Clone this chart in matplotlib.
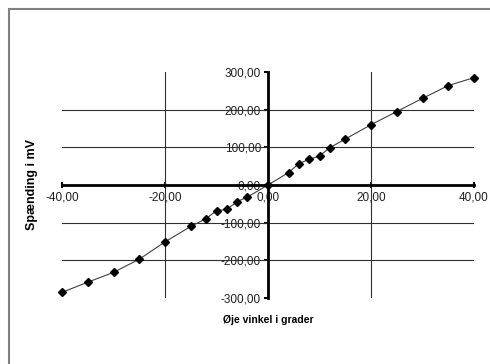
import matplotlib
matplotlib.use("Agg")
import matplotlib.pyplot as plt
import matplotlib.ticker as mticker
from matplotlib.patches import Rectangle

plt.rcParams["font.family"] = ["Liberation Sans", "DejaVu Sans"]

# eye angle (degrees) and measured voltage (mV)
vinkel = [-40, -35, -30, -25, -20, -15, -12, -10, -8, -6, -4, 0,
          4, 6, 8, 10, 12, 15, 20, 25, 30, 35, 40]
spaending = [-285, -258, -232, -197, -151, -110, -89, -68, -65, -44, -32, 0,
             33, 57, 68, 77, 99, 122, 160, 195, 230, 264, 285]

x_ticks = [-40, -20, 0, 20, 40]
y_ticks = [-300, -200, -100, 0, 100, 200, 300]
x_grid = [-20, 20]
y_grid = [-200, -100, 100, 200]

W, H = 490, 364
fig = plt.figure(figsize=(W / 100, H / 100), dpi=100)
ax = fig.add_axes([62 / W, 1 - 298 / H, (474 - 62) / W, (298 - 72) / H])

for g in y_grid:
    ax.axhline(g, color="#303030", linewidth=0.8, zorder=3)
for g in x_grid:
    ax.axvline(g, color="#303030", linewidth=0.8, zorder=3)

ax.plot(vinkel, spaending, color="#404040", linewidth=0.8, marker="D",
        markersize=3.6, markerfacecolor="black", markeredgecolor="black",
        zorder=4, clip_on=False)

ax.set_xlim(-40, 40)
ax.set_ylim(-300, 300)
ax.set_xticks(x_ticks)
ax.set_yticks(y_ticks)

fmt = mticker.FuncFormatter(lambda v, _: f"{v:.2f}".replace(".", ","))
ax.xaxis.set_major_formatter(fmt)
ax.yaxis.set_major_formatter(fmt)

for side in ["top", "right"]:
    ax.spines[side].set_visible(False)
for side in ["left", "bottom"]:
    ax.spines[side].set_position(("data", 0))
    ax.spines[side].set_linewidth(2.0)
    ax.spines[side].set_zorder(4.5)

ax.tick_params(axis="y", direction="out", length=3, width=1.5, pad=2,
               labelsize=8.5, labelcolor="#202020")
ax.tick_params(axis="x", direction="inout", length=4, width=1.5, pad=3,
               labelsize=8.5, labelcolor="#202020")

fig.text(32 / W, 1 - 185 / H, "Spænding i mV", rotation=90, ha="center",
         va="center", fontsize=9, fontweight="bold")
fig.text(268 / W, 1 - 320 / H, "Øje vinkel i grader", ha="center",
         va="center", fontsize=7.5, fontweight="bold")

fig.add_artist(Rectangle((9 / W, -0.1), 1.2, 1.1 - 9 / H,
                         transform=fig.transFigure, fill=False,
                         edgecolor="#808080", linewidth=1.5))

fig.savefig("out.png", dpi=100)
